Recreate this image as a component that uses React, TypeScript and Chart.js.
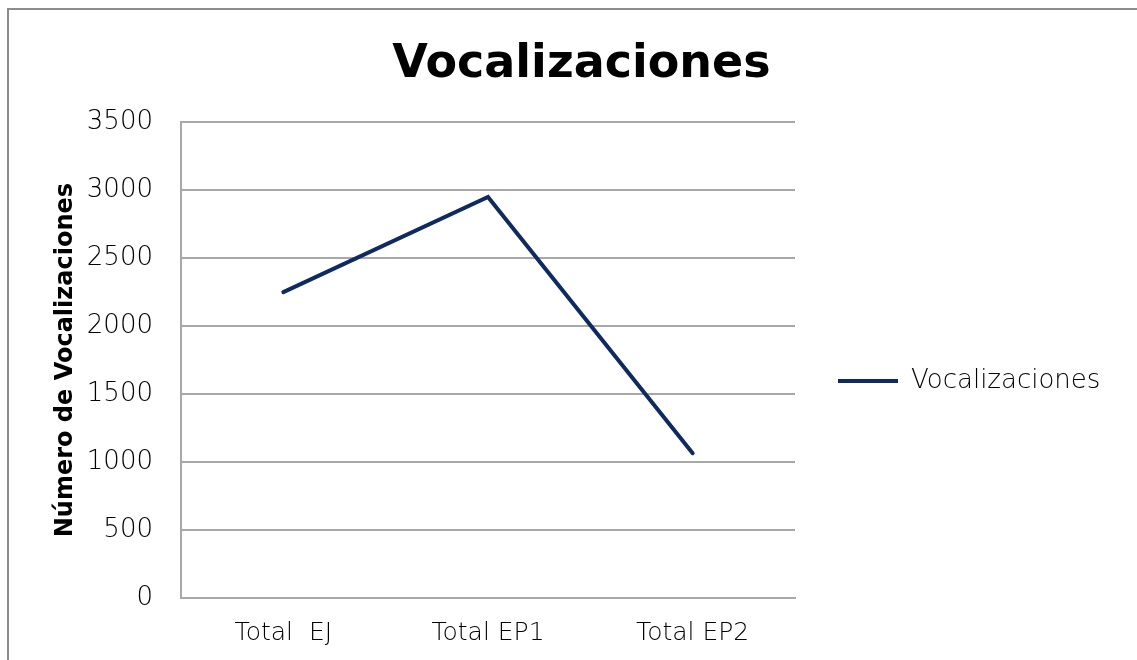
import React, { useEffect, useRef } from "react";
import { Chart, registerables } from "chart.js";

Chart.register(...registerables);

const categories = ["Total  EJ", "Total EP1", "Total EP2"];
const vocalizaciones = [2250, 2950, 1065];
const yMin = 0;
const yMax = 3500;
const yStep = 500;

const chartTitle = "Vocalizaciones";
const yTitle = "Número de Vocalizaciones";
const seriesName = "Vocalizaciones";

const lineColor = "#0e2a60";
const gridColor = "#a8a8a8";
const textColor = "#000000";
const lightFont = "DejaVu Sans";
const LEGEND_WIDTH = 328;

const legendWidthPlugin = {
  id: "legendWidth",
  beforeLayout(chart: any) {
    const lg = chart.legend;
    if (lg && !lg.__patched) {
      const orig = lg.fit.bind(lg);
      lg.fit = function () {
        orig();
        this.width = LEGEND_WIDTH;
      };
      lg.__patched = true;
    }
  },
};

export default function App() {
  const ref = useRef<HTMLCanvasElement | null>(null);

  useEffect(() => {
    if (!ref.current) return;
    const chart = new Chart(ref.current, {
      type: "line",
      data: {
        labels: categories,
        datasets: [
          {
            label: seriesName,
            data: vocalizaciones,
            borderColor: lineColor,
            backgroundColor: lineColor,
            borderWidth: 4,
            borderCapStyle: "round",
            borderJoinStyle: "miter",
            pointRadius: 0,
            pointHoverRadius: 0,
            tension: 0,
            fill: false,
          },
        ],
      },
      plugins: [legendWidthPlugin],
      options: {
        responsive: false,
        animation: false,
        layout: { padding: { left: 40, right: 14, top: 0, bottom: 0 } },
        plugins: {
          tooltip: { enabled: false },
          title: {
            display: true,
            text: chartTitle,
            color: "#000",
            font: { family: "DejaVu Sans", size: 46, weight: "bold" },
            padding: { top: 37, bottom: 30 },
          },
          legend: {
            display: true,
            position: "right",
            align: "center",
            title: {
              display: true,
              text: " ",
              font: { size: 10 },
              padding: { top: 0, bottom: 90 },
            },
            labels: {
              usePointStyle: true,
              pointStyle: "line",
              pointStyleWidth: 60,
              color: textColor,
              font: { family: lightFont, size: 26, weight: 200 },
              padding: 43,
            },
          },
        },
        scales: {
          x: {
            offset: true,
            grid: { display: false, drawTicks: false },
            border: { display: true, color: gridColor, width: 2 },
            ticks: {
              color: textColor,
              font: { family: lightFont, size: 25, weight: 200 },
              padding: 20,
              autoSkip: false,
              maxRotation: 0,
            },
            afterFit: (scale: any) => {
              scale.height = 62;
            },
          },
          y: {
            min: yMin,
            max: yMax,
            ticks: {
              stepSize: yStep,
              color: textColor,
              font: { family: lightFont, size: 26, weight: 200 },
              padding: 28,
              callback: (v: any) => String(v),
            },
            grid: { color: gridColor, lineWidth: 2, drawTicks: false },
            border: { display: true, color: gridColor, width: 2 },
            title: {
              display: true,
              text: yTitle,
              color: "#000",
              font: { family: "DejaVu Sans", size: 24, weight: "bold" },
              padding: { top: 11, bottom: 0 },
            },
            afterFit: (scale: any) => {
              scale.width = 141;
            },
          },
        },
      },
    });
    return () => chart.destroy();
  }, []);

  return (
    <div
      style={{
        position: "fixed",
        left: 0,
        top: 0,
        width: 1137,
        height: 660,
        overflow: "hidden",
        background: "#fff",
      }}
    >
      <div
        style={{
          position: "absolute",
          left: 7,
          top: 8,
          width: 1400,
          height: 900,
          borderLeft: "2px solid #8c8c8c",
          borderTop: "2px solid #8c8c8c",
          boxSizing: "border-box",
        }}
      />
      <canvas
        ref={ref}
        width={1137}
        height={660}
        style={{ position: "absolute", left: 0, top: 0, width: 1137, height: 660 }}
      />
    </div>
  );
}
